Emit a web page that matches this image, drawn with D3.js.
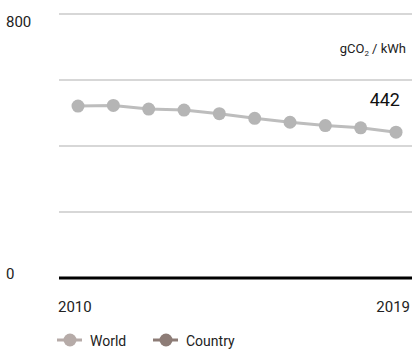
<!DOCTYPE html>
<html>
<head>
<meta charset="utf-8">
<script src="https://cdn.jsdelivr.net/npm/d3@7"></script>
<style>
  body { margin: 0; background: #fff; }
  svg { font-family: Roboto, "Liberation Sans", sans-serif; display: block; }
</style>
</head>
<body>
<div id="chart"></div>
<script>
var years      = [2010, 2011, 2012, 2013, 2014, 2015, 2016, 2017, 2018, 2019],
    world      = [521, 523, 512, 509, 498, 484, 472, 462, 455, 442],
    gridTicks  = [200, 400, 600, 800],
    axisLabels = [800, 0],
    legendKeys = ['World', 'Country'],
    legendCols = ['#b6aba8', '#8d7c76'];

var width  = 412,
    height = 352,
    svg    = d3.select('#chart').append('svg')
        .attr('width', width)
        .attr('height', height);

var x = d3.scaleLinear().domain([2010, 2019]).range([78, 396]),
    y = d3.scaleLinear().domain([0, 800]).range([278, 14]);

// grid
svg.selectAll('line.grid')
    .data(gridTicks)
    .enter()
    .append('line')
    .attr('x1', 59)
    .attr('x2', width)
    .attr('y1', function(d) { return y(d); })
    .attr('y2', function(d) { return y(d); })
    .style('stroke', '#cacaca')
    .style('stroke-width', 1.4);

// baseline
svg.append('line')
    .attr('x1', 59).attr('x2', width)
    .attr('y1', y(0)).attr('y2', y(0))
    .style('stroke', '#000')
    .style('stroke-width', 3);

// y labels
svg.selectAll('text.ylab')
    .data(axisLabels)
    .enter()
    .append('text')
    .attr('x', 6)
    .attr('y', function(d) { return d ? y(d) + 13 : y(d) + 1; })
    .style('font-size', '15px')
    .style('fill', '#222')
    .text(function(d) { return d; });

// x labels
svg.append('text')
    .attr('x', 58).attr('y', 312)
    .style('font-size', '15px').style('fill', '#222')
    .text(years[0]);
svg.append('text')
    .attr('x', 410).attr('y', 312)
    .attr('text-anchor', 'end')
    .style('font-size', '15px').style('fill', '#222')
    .text(years[years.length - 1]);

// unit
var unit = svg.append('text')
    .attr('x', 406).attr('y', 53)
    .attr('text-anchor', 'end')
    .style('font-size', '13px')
    .style('fill', '#222');
unit.append('tspan').text('gCO');
unit.append('tspan').attr('dy', 3).style('font-size', '8px').text('2');
unit.append('tspan').attr('dy', -3).text(' / kWh');

// series
var line = d3.line()
    .x(function(d, i) { return x(years[i]); })
    .y(function(d) { return y(d); });

svg.append('path')
    .datum(world)
    .attr('d', line)
    .style('fill', 'none')
    .style('stroke', '#bdbdbd')
    .style('stroke-width', 3);

svg.selectAll('circle.pt')
    .data(world)
    .enter()
    .append('circle')
    .attr('cx', function(d, i) { return x(years[i]); })
    .attr('cy', function(d) { return y(d); })
    .attr('r', 6.5)
    .style('fill', '#b5b5b5');

// last value
svg.append('text')
    .attr('x', 400).attr('y', 106)
    .attr('text-anchor', 'end')
    .style('font-size', '18px')
    .style('fill', '#111')
    .text(world[world.length - 1]);

// legend
var lg = svg.selectAll('g.legend')
    .data(legendKeys)
    .enter()
    .append('g')
    .attr('transform', function(d, i) { return 'translate(' + (57 + i * 96) + ',340)'; });
lg.append('line')
    .attr('x1', 0).attr('x2', 25)
    .style('stroke', function(d, i) { return legendCols[i]; })
    .style('stroke-width', 3);
lg.append('circle')
    .attr('cx', 13).attr('r', 6.5)
    .style('fill', function(d, i) { return legendCols[i]; });
lg.append('text')
    .attr('x', 33).attr('y', 6)
    .style('font-size', '14px')
    .style('fill', '#222')
    .text(function(d) { return d; });
</script>
</body>
</html>
